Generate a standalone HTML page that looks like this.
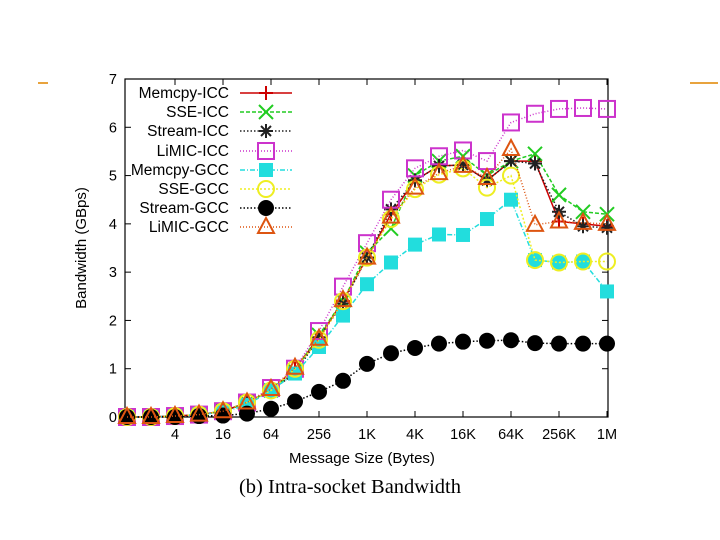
<!DOCTYPE html>
<html><head><meta charset="utf-8"><style>
body{margin:0;background:#fff;width:720px;height:540px;overflow:hidden}
svg{display:block}
text{font-family:"Liberation Sans",sans-serif}
</style></head><body>
<svg id="chart" width="720" height="540" viewBox="0 0 720 540">
<line x1="38" y1="83" x2="48" y2="83" stroke="#e8a33d" stroke-width="2"/>
<line x1="690" y1="83" x2="718" y2="83" stroke="#e8a33d" stroke-width="2"/>
<g id="axes"></g>
<g id="series"></g>
<g id="legend"></g>
<text transform="translate(86,248) rotate(-90)" text-anchor="middle" font-size="15">Bandwidth (GBps)</text>
<text x="362" y="463" text-anchor="middle" font-size="15">Message Size (Bytes)</text>
<text x="350" y="493" text-anchor="middle" font-size="20.5" style="font-family:'Liberation Serif',serif">(b) Intra-socket Bandwidth</text>
</svg>
<script>
const categories=["1","2","4","8","16","32","64","128","256","512","1K","2K","4K","8K","16K","32K","64K","128K","256K","512K","1M"];
const xTickLabels=["4","16","64","256","1K","4K","16K","64K","256K","1M"];
const yTicks=[0,1,2,3,4,5,6,7];
const memcpyICC=[0,0,0.02,0.05,0.12,0.3,0.55,1.0,1.65,2.4,3.3,4.2,4.9,5.2,5.22,4.9,5.3,5.3,4.05,4.0,3.95];
const sseICC=[0,0,0.02,0.05,0.12,0.3,0.55,0.95,1.7,2.4,3.4,3.9,5.0,5.3,5.4,5.0,5.3,5.45,4.6,4.25,4.2];
const streamICC=[0,0,0.02,0.05,0.12,0.28,0.55,0.9,1.65,2.35,3.3,4.3,4.9,5.2,5.22,4.9,5.3,5.25,4.25,3.95,3.92];
const limicICC=[0,0,0.02,0.05,0.12,0.3,0.6,1.0,1.78,2.7,3.6,4.5,5.15,5.4,5.52,5.3,6.1,6.28,6.38,6.4,6.38];
const memcpyGCC=[0,0,0.02,0.05,0.1,0.25,0.55,0.9,1.45,2.1,2.75,3.2,3.57,3.78,3.77,4.1,4.5,3.25,3.2,3.22,2.6];
const sseGCC=[0,0,0.02,0.05,0.12,0.3,0.55,1.0,1.6,2.4,3.3,4.1,4.72,5.02,5.15,4.75,5.0,3.25,3.2,3.22,3.22];
const streamGCC=[0,0,0,0.02,0.03,0.07,0.17,0.32,0.52,0.75,1.1,1.32,1.43,1.52,1.56,1.58,1.59,1.53,1.52,1.52,1.52];
const limicGCC=[0,0,0.02,0.05,0.12,0.3,0.58,1.02,1.62,2.42,3.3,4.15,4.75,5.05,5.2,4.95,5.55,3.98,4.05,4.02,4.0];
const NS="http://www.w3.org/2000/svg";
const L=125,R=608,T=79,B=417;
function xs(i){return 127+i*(607-127)/(categories.length-1);}
function ys(v){return B-(v/7)*(B-T);}
function mk(tag,at,parent){const e=document.createElementNS(NS,tag);for(const k in at)e.setAttribute(k,at[k]);parent.appendChild(e);return e;}
const axes=document.getElementById('axes');
const frame=mk('rect',{x:L,y:T,width:R-L,height:B-T,fill:'none',stroke:'#000','stroke-width':1.2},axes);


yTicks.forEach(v=>{const y=ys(v);
 mk('line',{x1:L,y1:y,x2:L+6,y2:y,stroke:'#000'},axes);mk('line',{x1:R,y1:y,x2:R-6,y2:y,stroke:'#000'},axes);
 const t=mk('text',{x:L-8,y:y+5,'text-anchor':'end','font-size':14.5},axes);t.textContent=v;
 
 });
xTickLabels.forEach(lbl=>{const i=categories.indexOf(lbl);const x=xs(i);
 mk('line',{x1:x,y1:B,x2:x,y2:B-6,stroke:'#000'},axes);mk('line',{x1:x,y1:T,x2:x,y2:T+6,stroke:'#000'},axes);
 const t=mk('text',{x:x,y:B+22,'text-anchor':'middle','font-size':14.5},axes);t.textContent=lbl;
 
 });
const defs=[
 {name:'Memcpy-ICC',d:memcpyICC,c:'#cc0000',dash:'',m:'plus'},
 {name:'SSE-ICC',d:sseICC,c:'#22cc22',dash:'4,2',m:'x'},
 {name:'Stream-ICC',d:streamICC,c:'#222',dash:'1.5,2',m:'star'},
 {name:'LiMIC-ICC',d:limicICC,c:'#cc33cc',dash:'1,2',m:'sq'},
 {name:'Memcpy-GCC',d:memcpyGCC,c:'#22dddd',dash:'5,2,1,2',m:'fsq'},
 {name:'SSE-GCC',d:sseGCC,c:'#eeee22',dash:'2,2',m:'circ'},
 {name:'Stream-GCC',d:streamGCC,c:'#000',dash:'1.5,2',m:'fcirc'},
 {name:'LiMIC-GCC',d:limicGCC,c:'#dd5511',dash:'1,2',m:'tri'}];
function marker(g,type,x,y,c){
 const s=7;
 if(type==='plus'){mk('path',{d:`M${x-s} ${y}H${x+s}M${x} ${y-s}V${y+s}`,stroke:c,'stroke-width':2},g);}
 else if(type==='x'){mk('path',{d:`M${x-s} ${y-s}L${x+s} ${y+s}M${x-s} ${y+s}L${x+s} ${y-s}`,stroke:c,'stroke-width':2},g);}
 else if(type==='star'){mk('path',{d:`M${x-s} ${y}H${x+s}M${x} ${y-s}V${y+s}M${x-5} ${y-5}L${x+5} ${y+5}M${x-5} ${y+5}L${x+5} ${y-5}`,stroke:c,'stroke-width':2},g);}
 else if(type==='sq'){mk('rect',{x:x-8,y:y-8,width:16,height:16,fill:'none',stroke:c,'stroke-width':2},g);}
 else if(type==='fsq'){mk('rect',{x:x-7,y:y-7,width:14,height:14,fill:c},g);}
 else if(type==='circ'){mk('circle',{cx:x,cy:y,r:8,fill:'none',stroke:c,'stroke-width':2},g);}
 else if(type==='fcirc'){mk('circle',{cx:x,cy:y,r:8,fill:c},g);}
 else if(type==='tri'){mk('path',{d:`M${x} ${y-9}L${x+8} ${y+6}L${x-8} ${y+6}Z`,fill:'none',stroke:c,'stroke-width':2},g);}
}
const sg=document.getElementById('series');
defs.forEach(s=>{
 const g=mk('g',{},sg);
 
 
 const pts=s.d.map((v,i)=>xs(i)+','+ys(v)).join(' ');
 mk('polyline',{points:pts,fill:'none',stroke:s.c,'stroke-width':1.5,'stroke-dasharray':s.dash},g);
 s.d.forEach((v,i)=>marker(g,s.m,xs(i),ys(v),s.c));
});
const lg=document.getElementById('legend');
const rows=[93,112,131,151,170,189,208,227];
defs.forEach((s,k)=>{
 const g=mk('g',{},lg);
 
 
 const y=rows[k];
 const t=mk('text',{x:229,y:y+5,'text-anchor':'end','font-size':15.5},g);t.textContent=s.name;
 mk('line',{x1:240,y1:y,x2:292,y2:y,stroke:s.c,'stroke-width':1.5,'stroke-dasharray':s.dash},g);
 marker(g,s.m,266,y,s.c);
});
</script>
</body></html>
